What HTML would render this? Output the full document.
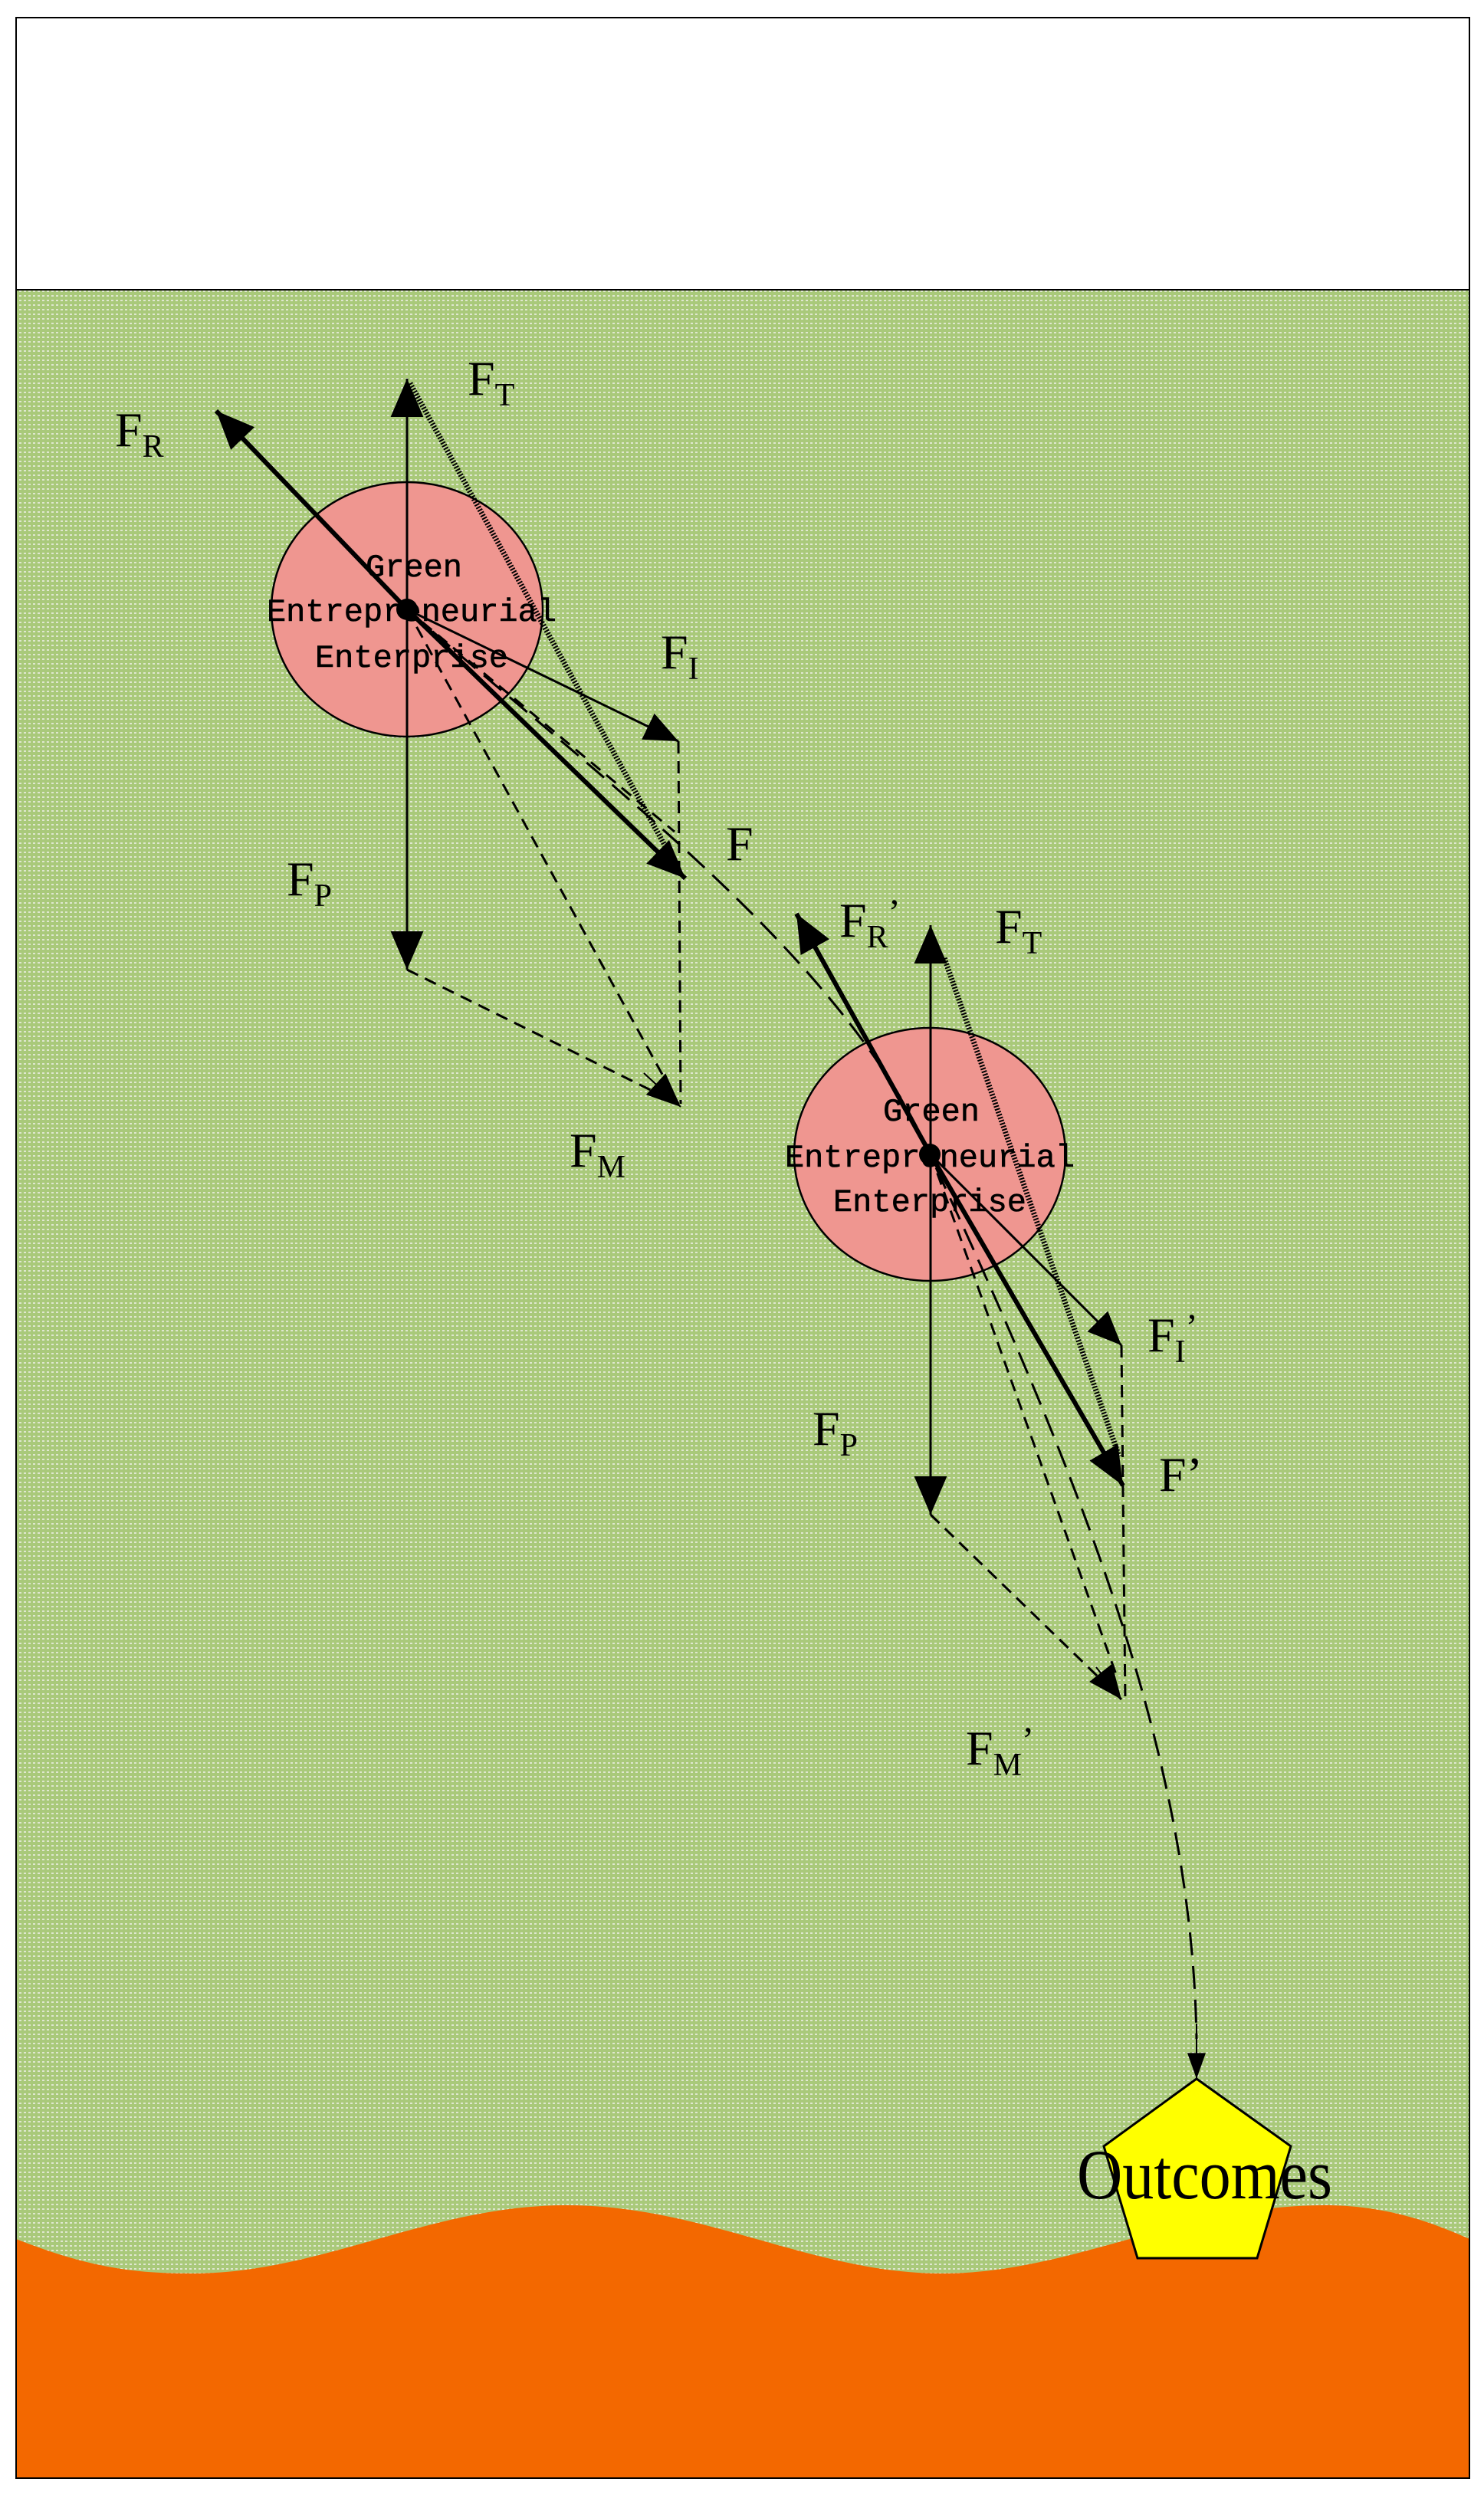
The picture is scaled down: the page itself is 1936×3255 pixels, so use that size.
<!DOCTYPE html>
<html><head><meta charset="utf-8"><style>
html,body{margin:0;padding:0;background:#fff}
svg{display:block}
.lbl{font-family:"Liberation Serif",serif;fill:#000}
.mono{font-family:"Liberation Mono",monospace;fill:#000}
</style></head><body>
<svg width="1936" height="3255" viewBox="0 0 1936 3255" xmlns="http://www.w3.org/2000/svg">
<defs>
<pattern id="dots" width="6" height="6" patternUnits="userSpaceOnUse">
<rect width="6" height="6" fill="#a9c97a"/>
<rect x="1" y="1" width="3" height="2" fill="#dfe7cf"/>
</pattern>
<marker id="ah" viewBox="0 0 14 12" refX="14" refY="6" markerWidth="50" markerHeight="44" markerUnits="userSpaceOnUse" orient="auto">
<path d="M0,0 L14,6 L0,12 z" fill="#000"/></marker>
<marker id="ahs" viewBox="0 0 14 12" refX="14" refY="6" markerWidth="44" markerHeight="38" markerUnits="userSpaceOnUse" orient="auto">
<path d="M0,0 L14,6 L0,12 z" fill="#000"/></marker>
<marker id="ahn" viewBox="0 0 14 10" refX="14" refY="5" markerWidth="48" markerHeight="24" markerUnits="userSpaceOnUse" orient="auto">
<path d="M0,0 L14,5 L0,10 z" fill="#000"/></marker>
</defs>
<rect x="21" y="23" width="1896" height="3210" fill="#fff" stroke="#000" stroke-width="2"/>
<rect x="21" y="378" width="1896" height="2855" fill="url(#dots)"/>
<line x1="21" y1="378" x2="1917" y2="378" stroke="#000" stroke-width="2"/>
<path d="M21,2921 C120,2960 180,2966 250,2966 C420,2966 560,2877 739,2877 C920,2877 1060,2966 1228,2966 C1400,2966 1540,2877 1728,2877 C1810,2877 1870,2900 1917,2921 L1917,3233 L21,3233 z" fill="#f36800"/>
<rect x="21" y="23" width="1896" height="3210" fill="none" stroke="#000" stroke-width="2"/>

<!-- circle 1 -->
<ellipse cx="531" cy="795" rx="177" ry="166" fill="#ef9690" stroke="#000" stroke-width="2.5"/>
<text class="mono" font-size="42" text-anchor="middle" stroke="#000" stroke-width="0.6"><tspan x="540" y="752">Green</tspan><tspan x="537" y="810">Entrepreneurial</tspan><tspan x="537" y="870">Enterprise</tspan></text>
<line x1="531" y1="1000" x2="531" y2="494" stroke="#000" stroke-width="3" marker-end="url(#ah)"/>
<line x1="531" y1="795" x2="531" y2="1265" stroke="#000" stroke-width="3" marker-end="url(#ah)"/>
<line x1="531" y1="795" x2="885" y2="967" stroke="#000" stroke-width="3" marker-end="url(#ahs)"/>
<line x1="531" y1="795" x2="282" y2="536" stroke="#000" stroke-width="6" marker-end="url(#ah)"/>
<line x1="531" y1="795" x2="894" y2="1146" stroke="#000" stroke-width="6" marker-end="url(#ah)"/>
<line x1="535" y1="500" x2="885" y2="1135" stroke="#000" stroke-width="7" stroke-dasharray="2,2"/>
<g stroke="#000" stroke-width="3" stroke-dasharray="16,10" fill="none">
<line x1="885" y1="967" x2="888" y2="1440"/>
<line x1="531" y1="1265" x2="885" y2="1440"/>
<line x1="531" y1="795" x2="885" y2="1440"/>
<line x1="531" y1="795" x2="880" y2="1085"/>
</g>
<line x1="840" y1="1400" x2="888" y2="1444" stroke="#000" stroke-width="2" marker-end="url(#ahs)"/>
<circle cx="531" cy="795" r="14" fill="#000"/>

<!-- circle 2 -->
<ellipse cx="1213" cy="1506" rx="177" ry="165" fill="#ef9690" stroke="#000" stroke-width="2.5"/>
<text class="mono" font-size="42" text-anchor="middle" stroke="#000" stroke-width="0.6"><tspan x="1215" y="1462">Green</tspan><tspan x="1213" y="1522">Entrepreneurial</tspan><tspan x="1213" y="1580">Enterprise</tspan></text>
<line x1="1214" y1="1650" x2="1214" y2="1207" stroke="#000" stroke-width="3" marker-end="url(#ah)"/>
<line x1="1214" y1="1506" x2="1214" y2="1976" stroke="#000" stroke-width="3" marker-end="url(#ah)"/>
<line x1="1214" y1="1506" x2="1463" y2="1755" stroke="#000" stroke-width="3" marker-end="url(#ahs)"/>
<line x1="1214" y1="1506" x2="1039" y2="1192" stroke="#000" stroke-width="6" marker-end="url(#ah)"/>
<line x1="1214" y1="1506" x2="1465" y2="1938" stroke="#000" stroke-width="6" marker-end="url(#ah)"/>
<line x1="1232" y1="1250" x2="1460" y2="1900" stroke="#000" stroke-width="7" stroke-dasharray="2,2"/>
<g stroke="#000" stroke-width="3" stroke-dasharray="16,10" fill="none">
<line x1="1463" y1="1755" x2="1468" y2="2220"/>
<line x1="1214" y1="1976" x2="1463" y2="2217"/>
<line x1="1214" y1="1506" x2="1458" y2="2190"/>
</g>
<path d="M531,795 C800,1030 1100,1250 1213,1506 C1420,1950 1555,2300 1561,2660" stroke="#000" stroke-width="3" stroke-dasharray="30,14" fill="none"/>
<line x1="1561" y1="2640" x2="1561" y2="2712" stroke="#000" stroke-width="2" marker-end="url(#ahn)"/>
<line x1="1430" y1="2175" x2="1463" y2="2217" stroke="#000" stroke-width="2" marker-end="url(#ahs)"/>
<circle cx="1213" cy="1506" r="14" fill="#000"/>

<!-- outcomes -->
<polygon points="1561,2712 1684,2800 1640,2946 1484,2946 1440,2800" fill="#ffff00" stroke="#000" stroke-width="3"/>
<text class="lbl" x="1405" y="2868" font-size="92" textLength="333" lengthAdjust="spacingAndGlyphs">Outcomes</text>

<!-- labels -->
<g class="lbl" font-size="64">
<text x="150" y="582">F<tspan font-size="42" dy="14">R</tspan></text>
<text x="610" y="515">F<tspan font-size="42" dy="14">T</tspan></text>
<text x="862" y="872">F<tspan font-size="42" dy="14">I</tspan></text>
<text x="947" y="1122">F</text>
<text x="374" y="1168">F<tspan font-size="42" dy="14">P</tspan></text>
<text x="743" y="1522">F<tspan font-size="42" dy="14">M</tspan></text>
<text x="1095" y="1222">F<tspan font-size="42" dy="14">R</tspan><tspan dy="-30" font-size="48">’</tspan></text>
<text x="1298" y="1230">F<tspan font-size="42" dy="14">T</tspan></text>
<text x="1497" y="1763">F<tspan font-size="42" dy="14">I</tspan><tspan dy="-30" font-size="48">’</tspan></text>
<text x="1512" y="1945">F’</text>
<text x="1060" y="1885">F<tspan font-size="42" dy="14">P</tspan></text>
<text x="1260" y="2302">F<tspan font-size="42" dy="14">M</tspan><tspan dy="-30" font-size="48">’</tspan></text>
</g>
</svg>
</body></html>
